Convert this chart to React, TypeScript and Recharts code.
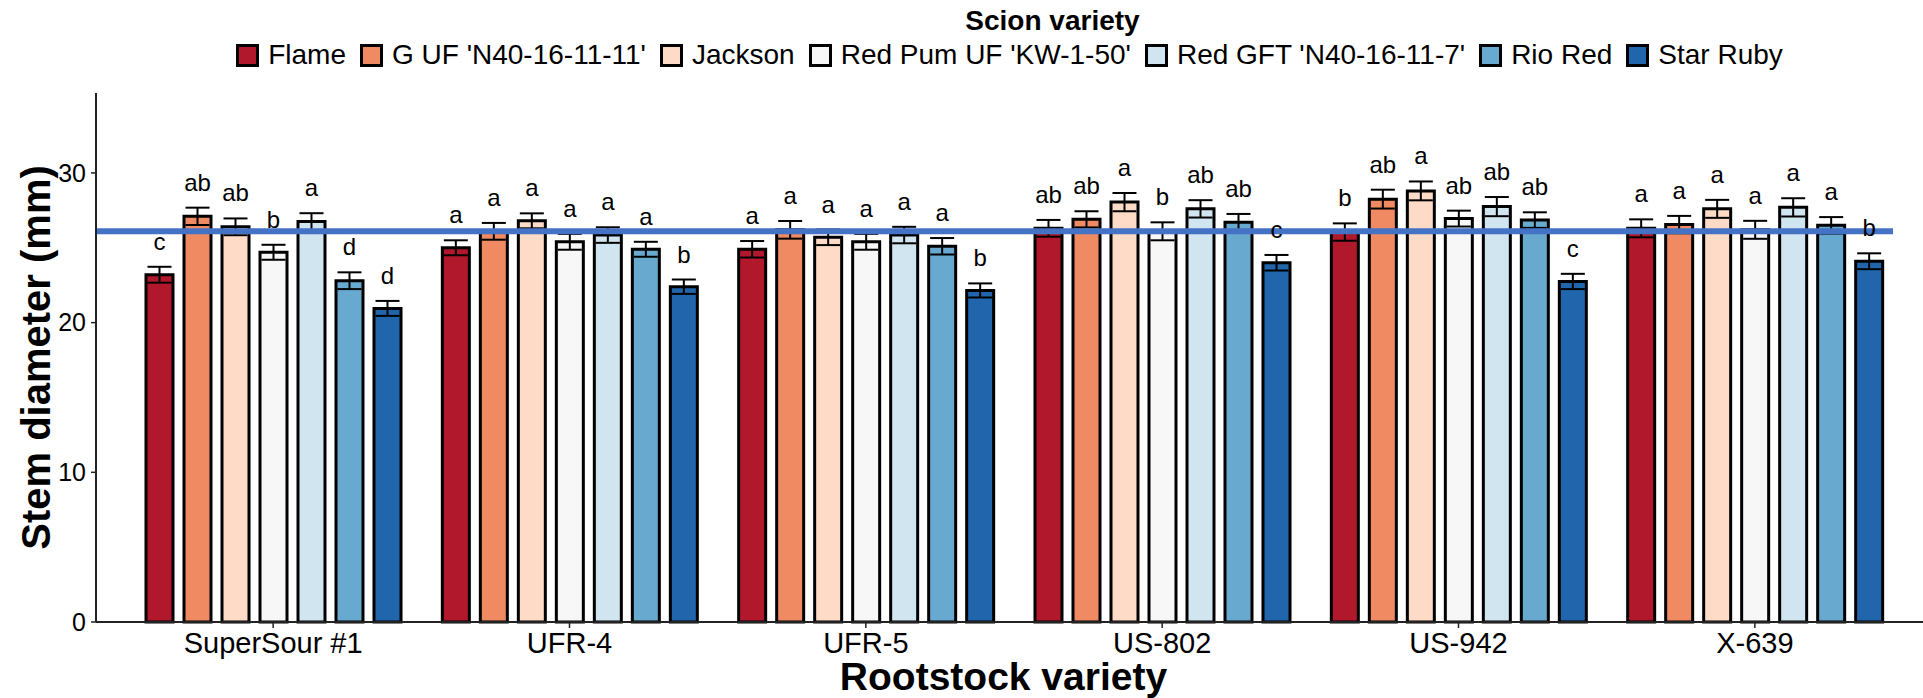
import React from "react";
import { BarChart, Bar, XAxis, YAxis, ErrorBar, LabelList, ReferenceLine, Legend } from "recharts";

const font = "'Liberation Sans', Arial, sans-serif";

const rootstocks = ["SuperSour #1", "UFR-4", "UFR-5", "US-802", "US-942", "X-639"];
const scions = [
  "Flame",
  "G UF 'N40-16-11-11'",
  "Jackson",
  "Red Pum UF 'KW-1-50'",
  "Red GFT 'N40-16-11-7'",
  "Rio Red",
  "Star Ruby",
];
const scionColors = ["#B2182B", "#EF8A62", "#FDDBC7", "#F7F7F7", "#D1E5F0", "#67A9CF", "#2166AC"];

// mean stem diameter (mm), one value per rootstock
const flame = [23.2, 25.0, 24.9, 26.3, 26.05, 26.3];
const gUF = [27.1, 26.1, 26.2, 26.9, 28.25, 26.55];
const jackson = [26.4, 26.8, 25.7, 28.05, 28.8, 27.6];
const redPum = [24.7, 25.4, 25.4, 26.1, 26.95, 26.2];
const redGFT = [26.75, 25.85, 25.85, 27.6, 27.75, 27.7];
const rioRed = [22.8, 24.9, 25.1, 26.7, 26.85, 26.5];
const starRuby = [20.95, 22.4, 22.15, 24.0, 22.75, 24.1];

// standard errors
const flameSE = [0.53, 0.5, 0.55, 0.56, 0.58, 0.6];
const gUFSE = [0.58, 0.56, 0.59, 0.54, 0.63, 0.58];
const jacksonSE = [0.56, 0.5, 0.52, 0.61, 0.63, 0.6];
const redPumSE = [0.5, 0.53, 0.53, 0.6, 0.53, 0.6];
const redGFTSE = [0.56, 0.52, 0.55, 0.58, 0.64, 0.61];
const rioRedSE = [0.56, 0.5, 0.55, 0.56, 0.52, 0.55];
const starRubySE = [0.5, 0.48, 0.47, 0.52, 0.51, 0.53];

// Tukey letters
const flameLetters = ["c", "a", "a", "ab", "b", "a"];
const gUFLetters = ["ab", "a", "a", "ab", "ab", "a"];
const jacksonLetters = ["ab", "a", "a", "a", "a", "a"];
const redPumLetters = ["b", "a", "a", "b", "ab", "a"];
const redGFTLetters = ["a", "a", "a", "ab", "ab", "a"];
const rioRedLetters = ["d", "a", "a", "ab", "ab", "a"];
const starRubyLetters = ["d", "b", "b", "c", "c", "b"];

const overallMean = 26.1;
const yTicks = [0, 10, 20, 30];

const means = [flame, gUF, jackson, redPum, redGFT, rioRed, starRuby];
const ses = [flameSE, gUFSE, jacksonSE, redPumSE, redGFTSE, rioRedSE, starRubySE];
const letters = [flameLetters, gUFLetters, jacksonLetters, redPumLetters, redGFTLetters, rioRedLetters, starRubyLetters];

const data = rootstocks.map((r, i) => {
  const row: Record<string, any> = { rootstock: r };
  scions.forEach((_, k) => {
    row["m" + k] = means[k][i];
    row["e" + k] = ses[k][i];
    row["l" + k] = letters[k][i];
  });
  return row;
});

// letter sits a little above the top of the error bar
const letterLabel = (k: number) => (props: any) => {
  const vb = props.viewBox || props;
  const x = Number(vb.x ?? props.x);
  const y = Number(vb.y ?? props.y);
  const w = Number(vb.width ?? props.width);
  const h = Number(vb.height ?? props.height);
  const row = data[props.index];
  if (!row) return null;
  const pxPerUnit = Math.abs(h) / row["m" + k];
  const top = y - row["e" + k] * pxPerUnit;
  return (
    <text x={x + w / 2} y={top - 17} textAnchor="middle" fontSize={24} fill="#000" fontFamily={font}>
      {props.value}
    </text>
  );
};

const ScionLegend = () => (
  <div style={{ fontFamily: font, color: "#000", textAlign: "center" }}>
    <div style={{ fontWeight: 700, fontSize: 28, lineHeight: "32px", height: 32, paddingLeft: 86 }}>
      Scion variety
    </div>
    <div style={{ display: "flex", justifyContent: "center", alignItems: "center", gap: 14, marginTop: 2, height: 32 }}>
      {scions.map((s, k) => (
        <div key={s} style={{ display: "flex", alignItems: "center" }}>
          <span
            style={{
              display: "inline-block",
              width: 23,
              height: 23,
              boxSizing: "border-box",
              border: "3px solid #000",
              background: scionColors[k],
              marginRight: 9,
            }}
          />
          <span style={{ fontSize: 28, lineHeight: "32px", whiteSpace: "nowrap" }}>{s}</span>
        </div>
      ))}
    </div>
  </div>
);

const YTitle = ({ viewBox }: any) => {
  const cy = viewBox.y + viewBox.height / 2;
  return (
    <text
      x={36}
      y={cy}
      transform={`rotate(-90 36 ${cy})`}
      textAnchor="middle"
      dominantBaseline="central"
      fontSize={40}
      fontWeight={700}
      fill="#000"
      fontFamily={font}
    >
      Stem diameter (mm)
    </text>
  );
};

const XTitle = ({ viewBox }: any) => (
  <text
    x={viewBox.x + viewBox.width / 2 - 6}
    y={690}
    textAnchor="middle"
    fontSize={39}
    fontWeight={700}
    fill="#000"
    fontFamily={font}
  >
    Rootstock variety
  </text>
);

// the mean line stops a little short of the panel's right edge
const MeanLine = (p: any) => (
  <line x1={p.x1} y1={p.y1} x2={p.x2 - 30} y2={p.y2} stroke="#4472C4" strokeWidth={6} />
);

export default function App() {
  return (
    <div style={{ position: "absolute", left: 0, top: 0, background: "#fff" }}>
      <BarChart
        width={1923}
        height={698}
        data={data}
        margin={{ top: 93, right: 0, bottom: 0, left: 0 }}
        barGap={11}
      >
        <XAxis
          dataKey="rootstock"
          height={76}
          padding={{ left: 29, right: 20 }}
          axisLine={{ stroke: "#222", strokeWidth: 2 }}
          tickLine={{ stroke: "#222", strokeWidth: 1.5 }}
          tickSize={6}
          tickMargin={4}
          tick={{ fontSize: 29, fill: "#000", fontFamily: font }}
          label={<XTitle />}
        />
        <YAxis
          width={96}
          domain={[0, 35.34]}
          ticks={yTicks}
          axisLine={{ stroke: "#222", strokeWidth: 2 }}
          tickLine={{ stroke: "#222", strokeWidth: 1.5 }}
          tickSize={5}
          tickMargin={5}
          tick={{ fontSize: 25, fill: "#000", fontFamily: font }}
          label={<YTitle />}
        />
        <Legend
          layout="horizontal"
          verticalAlign="middle"
          align="center"
          wrapperStyle={{ top: 5, left: 96, width: 1827 }}
          content={ScionLegend}
        />
        {scions.map((s, k) => (
          <Bar
            key={s}
            name={s}
            dataKey={"m" + k}
            fill={scionColors[k]}
            stroke="#000"
            strokeWidth={3}
            barSize={27}
            isAnimationActive={false}
          >
            <ErrorBar dataKey={"e" + k} width={12} strokeWidth={2} stroke="#000" direction="y" />
            <LabelList dataKey={"l" + k} content={letterLabel(k)} />
          </Bar>
        ))}
        <ReferenceLine y={overallMean} stroke="#4472C4" strokeWidth={6} shape={MeanLine} />
      </BarChart>
    </div>
  );
}
